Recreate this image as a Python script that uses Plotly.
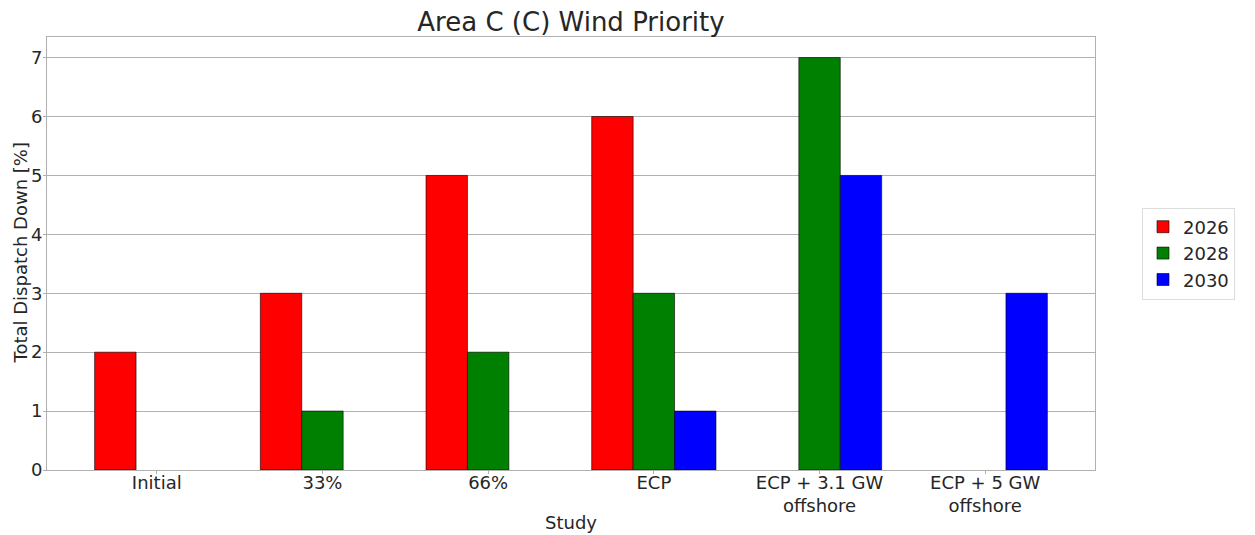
import plotly.graph_objects as go

studies = ["Initial", "33%", "66%", "ECP", "ECP + 3.1 GW<br>offshore", "ECP + 5 GW<br>offshore"]
years = ["2026", "2028", "2030"]
v2026 = [2, 3, 5, 6, 0, 0]
v2028 = [0, 1, 2, 3, 7, 0]
v2030 = [0, 0, 0, 1, 5, 3]
colors = ["#ff0000", "#008000", "#0000ff"]

series = [v2026, v2028, v2030]
width = 0.25
offsets = [-0.25, 0.0, 0.25]
x = list(range(len(studies)))

fig = go.Figure()
for yr, vals, col, off in zip(years, series, colors, offsets):
    # zero-height bars are not drawn (no outline at baseline)
    fig.add_trace(go.Bar(
        x=[i + off for i in x], y=[v if v != 0 else None for v in vals], name=yr, width=width,
        marker=dict(color=col, line=dict(color="rgba(0,0,0,0.75)", width=0.8)),
    ))

# page body has an 8px margin, so the figure is 8px smaller and offset
W, H = 1247, 527
L, R, T, B = 39, 160, 29, 65
PW, PH = W - L - R, H - T - B

font = "DejaVu Sans, sans-serif"
fig.update_layout(
    width=W, height=H,
    margin=dict(l=L, r=R, t=T, b=B, autoexpand=False),
    paper_bgcolor="white", plot_bgcolor="white",
    font=dict(family=font, size=18, color="#262626"),
    title=dict(text="Area C (C) Wind Priority", x=(L + PW / 2) / W, xanchor="center",
               y=1 - 14 / H, yanchor="middle", font=dict(size=26, color="#262626")),
    barmode="overlay",
    showlegend=True,
    legend=dict(x=(1134 - L) / PW, xanchor="left", y=0.5, yanchor="middle",
                bordercolor="#dddddd", borderwidth=1, font=dict(size=18),
                tracegroupgap=2),
    xaxis=dict(range=[-0.6625, 5.6625], tickvals=x, ticktext=studies,
               showgrid=False, showline=True, linecolor="#b0b0b0", mirror=True,
               ticks="outside", ticklen=3, tickcolor="#b0b0b0", automargin=False,
               ticklabelstandoff=-7,
               tickfont=dict(size=18), zeroline=False),
    yaxis=dict(range=[0, 7.35], tickvals=list(range(8)),
               showgrid=True, gridcolor="rgba(0,0,0,0.3)", gridwidth=1,
               showline=True, linecolor="#b0b0b0", mirror=True,
               ticks="outside", ticklen=3, tickcolor="#b0b0b0", automargin=False,
               ticklabelstandoff=-3,
               tickfont=dict(size=18), zeroline=False, layer="above traces"),
    annotations=[
        dict(text="Study", xref="paper", yref="paper", x=0.5, y=-52 / PH,
             xanchor="center", yanchor="middle", showarrow=False, font=dict(size=18)),
        dict(text="Total Dispatch Down [%]", xref="paper", yref="paper",
             x=(12 - L) / PW, y=0.5, xanchor="center", yanchor="middle",
             textangle=-90, showarrow=False, font=dict(size=18)),
    ],
)

fig.write_html("out.html")
